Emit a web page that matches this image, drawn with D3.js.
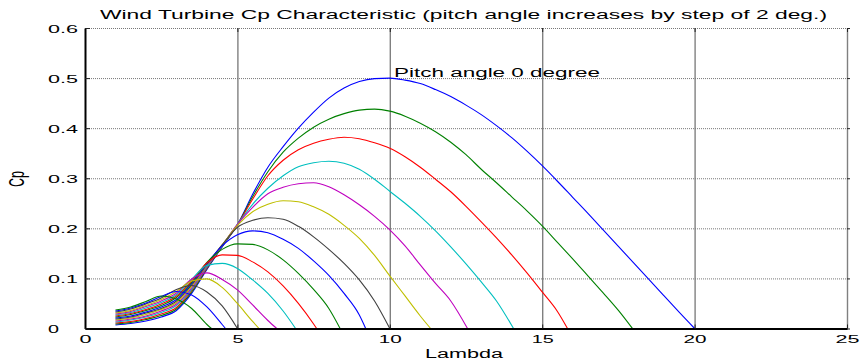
<!DOCTYPE html>
<html><head><meta charset="utf-8">
<script src="https://cdn.jsdelivr.net/npm/d3@7"></script>
<style>
html,body{margin:0;padding:0;background:#fff;}
svg{display:block;font-family:"Liberation Sans",Arial,Helvetica,sans-serif;}
</style></head><body>
<svg id="chart" width="860" height="363"></svg>
<script>
// ---- data ----
const pitchAngles = [0,2,4,6,8,10,12,14,16,18,20,22,24,26,28,30];
const lambdaStart = 1;
const lambdaStep = 0.5;
// Cp values at lambda = 1, 1.5, 2, ... for each pitch angle
const cpBeta0  = [.007,.010,.015,.023,.036,.070,.118,.163,.207,.268,.322,.363,.400,.432,.460,.480,.493,.499,.500,.496,.489,.477,.463,.446,.427,.405,.381,.354,.325,.294,.262,.230,.197,.164,.131,.098,.065,.032];
const cpBeta2  = [.009,.012,.018,.026,.039,.073,.120,.164,.207,.263,.313,.352,.380,.402,.418,.429,.436,.438,.434,.424,.410,.393,.372,.347,.318,.291,.263,.235,.205,.172,.139,.105,.071,.036];
const cpBeta4  = [.011,.014,.020,.029,.042,.076,.121,.165,.207,.258,.305,.336,.357,.370,.378,.382,.379,.371,.360,.343,.322,.298,.273,.244,.213,.181,.147,.111,.073,.034];
const cpBeta6  = [.013,.017,.023,.032,.046,.078,.123,.165,.208,.248,.280,.305,.323,.331,.334,.330,.318,.298,.274,.250,.224,.195,.163,.129,.093,.055];
const cpBeta8  = [.015,.019,.025,.035,.049,.081,.125,.166,.208,.242,.269,.282,.289,.291,.283,.267,.247,.224,.197,.165,.127,.090,.055];
const cpBeta10 = [.017,.021,.028,.038,.052,.084,.127,.167,.206,.233,.248,.255,.253,.243,.228,.206,.180,.146,.105,.065,.025];
const cpBeta12 = [.019,.023,.031,.040,.055,.087,.128,.167,.202,.216,.221,.218,.204,.183,.158,.130,.097,.055];
const cpBeta14 = [.021,.025,.033,.043,.058,.090,.130,.165,.187,.195,.191,.178,.160,.135,.106,.070,.027];
const cpBeta16 = [.023,.028,.036,.046,.062,.092,.132,.158,.169,.168,.157,.137,.110,.078,.040];
const cpBeta18 = [.025,.030,.038,.049,.065,.095,.131,.147,.146,.133,.113,.085,.050,.009];
const cpBeta20 = [.027,.032,.041,.052,.068,.098,.126,.130,.120,.097,.070,.035];
const cpBeta22 = [.029,.034,.044,.055,.071,.099,.111,.098,.077,.047,.016];
const cpBeta24 = [.031,.036,.046,.058,.074,.095,.099,.082,.050,.014];
const cpBeta26 = [.033,.039,.049,.061,.078,.086,.073,.045];
const cpBeta28 = [.035,.041,.051,.064,.074,.067,.043,.008];
const cpBeta30 = [.037,.043,.054,.065,.059,.040,.008];
// lambda where each curve reaches Cp = 0
const zeroLambda = [20.0,17.96,15.83,14.06,12.55,11.34,10.0,9.21,8.37,7.6,6.91,6.29,5.71,5.0,4.61,4.15];
const xTicks = [0,5,10,15,20,25];
const yTicks = [0,0.1,0.2,0.3,0.4,0.5,0.6];
const yTickLabels = ["0","0.1","0.2","0.3","0.4","0.5","0.6"];
const titleText = "Wind Turbine Cp Characteristic (pitch angle increases by step of 2 deg.)";
const xLabel = "Lambda";
const yLabel = "Cp";
const annotationText = "Pitch angle 0 degree";

const cpSeries = [cpBeta0,cpBeta2,cpBeta4,cpBeta6,cpBeta8,cpBeta10,cpBeta12,cpBeta14,cpBeta16,cpBeta18,cpBeta20,cpBeta22,cpBeta24,cpBeta26,cpBeta28,cpBeta30];

// ---- styles ----
const lineColors = ["#0000ff","#008000","#ff0000","#00bfbf","#bf00bf","#bfbf00","#404040"];

const svg = d3.select("#chart");
const x = d3.scaleLinear().domain([0,25]).range([85,847]);
const y = d3.scaleLinear().domain([0,0.6]).range([328.5,28]);

// vertical grid (solid gray)
const gx = svg.append("g").attr("transform",`translate(0,${y(0)})`)
  .call(d3.axisBottom(x).tickValues(xTicks.filter(d=>d>0)).tickSize(-(y(0)-y(0.6))).tickFormat(""));
gx.select(".domain").remove();
gx.selectAll("line").attr("stroke","#808080").attr("stroke-width",1.4);

// horizontal grid (dotted)
const gy = svg.append("g").attr("transform",`translate(${x(0)},0)`)
  .call(d3.axisLeft(y).tickValues(yTicks.filter(d=>d>0)).tickSize(-(x(25)-x(0))).tickFormat(""));
gy.select(".domain").remove();
gy.selectAll("line").attr("stroke","#777").attr("stroke-width",1).attr("stroke-dasharray","1,1");

// curves
const line = d3.line().x(d=>x(d[0])).y(d=>y(d[1])).curve(d3.curveMonotoneX);
cpSeries.forEach((vals,i)=>{
  const pts = vals.map((v,j)=>[lambdaStart + j*lambdaStep, v]);
  pts.push([zeroLambda[i], 0]);
  svg.append("path").datum(pts)
    .attr("fill","none")
    .attr("stroke",lineColors[i % lineColors.length])
    .attr("stroke-width",1.1)
    .attr("d",line);
});

// top and right small ticks
const gt = svg.append("g").attr("transform",`translate(0,${y(0.6)})`)
  .call(d3.axisTop(x).tickValues(xTicks).tickSize(-4).tickFormat(""));
gt.select(".domain").remove();
gt.selectAll("line").attr("stroke","#222");
const gr = svg.append("g").attr("transform",`translate(${x(25)},0)`)
  .call(d3.axisRight(y).tickValues(yTicks).tickSize(3).tickFormat(""));
gr.select(".domain").remove();
gr.selectAll("line").attr("stroke","#222");

// bottom axis
const xTickWidths = {0:12,5:11,10:23,15:22,20:23,25:24};
const ax = svg.append("g").attr("transform",`translate(0,${y(0)})`)
  .call(d3.axisBottom(x).tickValues(xTicks).tickSize(-4).tickSizeOuter(0).tickFormat(d3.format("d")));
ax.select(".domain").attr("stroke","#000").attr("stroke-width",2);
ax.selectAll(".tick line").attr("stroke","#222");
ax.selectAll(".tick text")
  .attr("y",14.5).attr("dy",null)
  .attr("font-size",11.5).attr("fill","#000")
  .attr("text-anchor","middle")
  .attr("textLength",d=>xTickWidths[d]).attr("lengthAdjust","spacingAndGlyphs");

// left axis
const ay = svg.append("g").attr("transform",`translate(${x(0)},0)`)
  .call(d3.axisLeft(y).tickValues(yTicks).tickSize(-5).tickSizeOuter(0).tickFormat((d,i)=>yTickLabels[i]));
ay.select(".domain").attr("stroke","#000").attr("stroke-width",2);
ay.selectAll(".tick line").attr("stroke","#222");
ay.selectAll(".tick text")
  .attr("x",48 - x(0)).attr("dy","0.36em")
  .attr("font-size",11.5).attr("fill","#000")
  .attr("text-anchor","start")
  .attr("textLength",(d,i)=>i===0?11:30).attr("lengthAdjust","spacingAndGlyphs");

// title
svg.append("text").attr("x",100).attr("y",19)
  .attr("font-size",12.5).attr("fill","#000")
  .attr("textLength",727).attr("lengthAdjust","spacingAndGlyphs")
  .text(titleText);

// x label
svg.append("text").attr("x",425).attr("y",358)
  .attr("font-size",12.5).attr("fill","#000")
  .attr("textLength",78).attr("lengthAdjust","spacingAndGlyphs")
  .text(xLabel);

// y label
svg.append("text")
  .attr("transform","translate(24,179) scale(1.7,1) rotate(-90)")
  .attr("text-anchor","middle")
  .attr("font-size",12.5).attr("fill","#000")
  .text(yLabel);

// annotation
svg.append("text").attr("x",394).attr("y",77)
  .attr("font-size",12.5).attr("fill","#000")
  .attr("textLength",206).attr("lengthAdjust","spacingAndGlyphs")
  .text(annotationText);
</script>
</body></html>
